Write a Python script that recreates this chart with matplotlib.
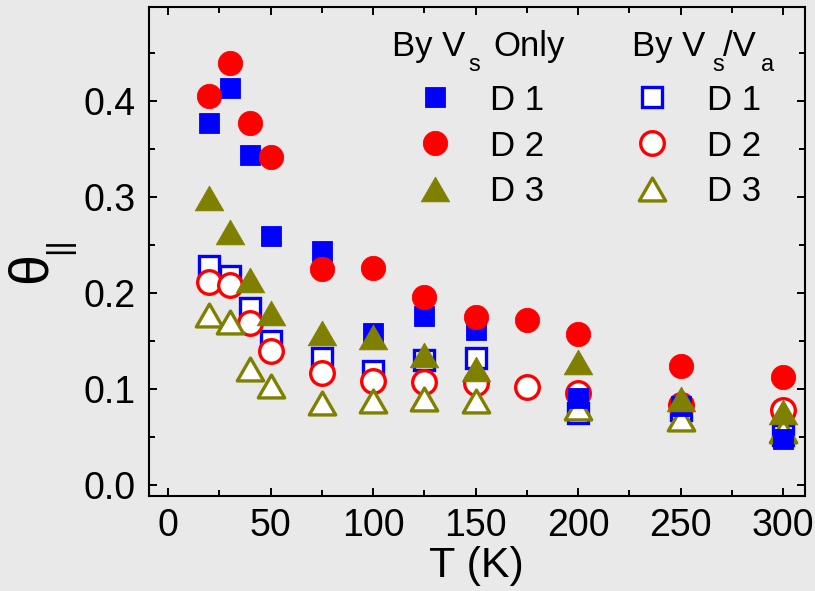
import matplotlib
matplotlib.use("Agg")
import matplotlib.pyplot as plt
from matplotlib.ticker import MultipleLocator, FormatStrFormatter
from matplotlib.path import Path

# ---------------- data ----------------
T_d1 = [20, 30, 40, 50, 75, 100, 125, 150, 200, 250, 300]
T_d2 = [20, 30, 40, 50, 75, 100, 125, 150, 175, 200, 250, 300]
T_d3 = [20, 30, 40, 50, 75, 100, 125, 150, 200, 250, 300]

vs_d1 = [0.377, 0.414, 0.344, 0.260, 0.244, 0.159, 0.176, 0.162, 0.091, 0.083, 0.048]
vs_d2 = [0.405, 0.440, 0.377, 0.342, 0.225, 0.226, 0.196, 0.175, 0.172, 0.158, 0.124, 0.113]
vs_d3 = [0.299, 0.264, 0.214, 0.180, 0.159, 0.154, 0.136, 0.121, 0.129, 0.090, 0.076]

va_d1 = [0.228, 0.218, 0.185, 0.150, 0.133, 0.119, 0.131, 0.133, 0.075, 0.078, 0.052]
va_d2 = [0.212, 0.209, 0.169, 0.140, 0.117, 0.109, 0.108, 0.107, 0.102, 0.096, 0.084, 0.078]
va_d3 = [0.177, 0.170, 0.121, 0.103, 0.086, 0.088, 0.090, 0.088, 0.081, 0.069, 0.057]

labels = ["D 1", "D 2", "D 3"]

# ---------------- style ----------------
plt.rcParams['font.family'] = ['Liberation Sans', 'DejaVu Sans']

BG = '#e9e9e9'
BLUE = '#0000ff'
RED = '#ff0000'
OLIVE = '#808000'

tri = Path([(0, 1), (-1.155, -1), (1.155, -1), (0, 1)],
           [Path.MOVETO, Path.LINETO, Path.LINETO, Path.CLOSEPOLY])

W, H = 815, 591
fig = plt.figure(figsize=(W / 100, H / 100), dpi=100, facecolor=BG)
ax = fig.add_axes([148.6 / W, 1 - 496 / H, (805 - 148.6) / W, (496 - 7) / H])
ax.set_facecolor(BG)

# open markers (drawn first)
h_o1, = ax.plot(T_d1, va_d1, ls='none', marker='s', ms=14, mfc='white', mec=BLUE, mew=2.4)
h_o2, = ax.plot(T_d2, va_d2, ls='none', marker='o', ms=17, mfc='white', mec=RED, mew=2.4)
h_o3, = ax.plot(T_d3, va_d3, ls='none', marker=tri, ms=19, mfc='white', mec=OLIVE, mew=2.4)
# filled markers
h_f1, = ax.plot(T_d1, vs_d1, ls='none', marker='s', ms=15, mfc=BLUE, mec=BLUE, mew=0.6)
h_f2, = ax.plot(T_d2, vs_d2, ls='none', marker='o', ms=17.5, mfc=RED, mec=RED, mew=0.6)
h_f3, = ax.plot(T_d3, vs_d3, ls='none', marker=tri, ms=20.5, mfc=OLIVE, mec=OLIVE, mew=0.6)

ax.set_xlim(-9.5, 310.7)
ax.set_ylim(-0.011, 0.498)
ax.xaxis.set_major_locator(MultipleLocator(50))
ax.xaxis.set_minor_locator(MultipleLocator(25))
ax.yaxis.set_major_locator(MultipleLocator(0.1))
ax.yaxis.set_minor_locator(MultipleLocator(0.05))
ax.yaxis.set_major_formatter(FormatStrFormatter('%.1f'))

ax.tick_params(which='both', direction='in', top=True, right=True, width=1.4)
ax.tick_params(which='major', length=6, labelsize=27)
ax.tick_params(which='minor', length=4)
ax.tick_params(axis='y', which='major', pad=9)
ax.tick_params(axis='x', which='major', pad=9)
for s in ax.spines.values():
    s.set_linewidth(1.5)

ax.set_xlabel("T (K)", fontsize=31, labelpad=1)

# y label: theta with parallel subscript
fig.text(32 / W, 1 - 268 / H, "θ", rotation=90, fontsize=40,
         ha='center', va='center')
fig.text(59 / W, 1 - 246 / H, "||", rotation=90, fontsize=23,
         ha='center', va='center')

# legend column titles (subscripts set low, as in the original)
def put(x, y, s, fs=25):
    fig.text(x / W, 1 - y / H, s, fontsize=fs, ha='left', va='baseline')

put(392, 56, "By V")
put(468, 71, "s", fs=17)
put(493, 56, "Only")
put(632, 56, "By V")
put(712, 71, "s", fs=17)
put(723, 56, "/V")
put(761, 71, "a", fs=17)

leg_kw = dict(frameon=False, fontsize=25, numpoints=1,
              handlelength=1.0, handletextpad=1.1, labelspacing=0.372,
              borderpad=0, borderaxespad=0, loc='center')
leg1 = ax.legend([h_f1, h_f2, h_f3], labels,
                 bbox_to_anchor=(481 / W, 1 - 146 / H),
                 bbox_transform=fig.transFigure, **leg_kw)
ax.add_artist(leg1)
leg2 = ax.legend([h_o1, h_o2, h_o3], labels,
                 bbox_to_anchor=(698 / W, 1 - 146 / H),
                 bbox_transform=fig.transFigure, **leg_kw)

fig.savefig("out.png", dpi=100, facecolor=BG)
